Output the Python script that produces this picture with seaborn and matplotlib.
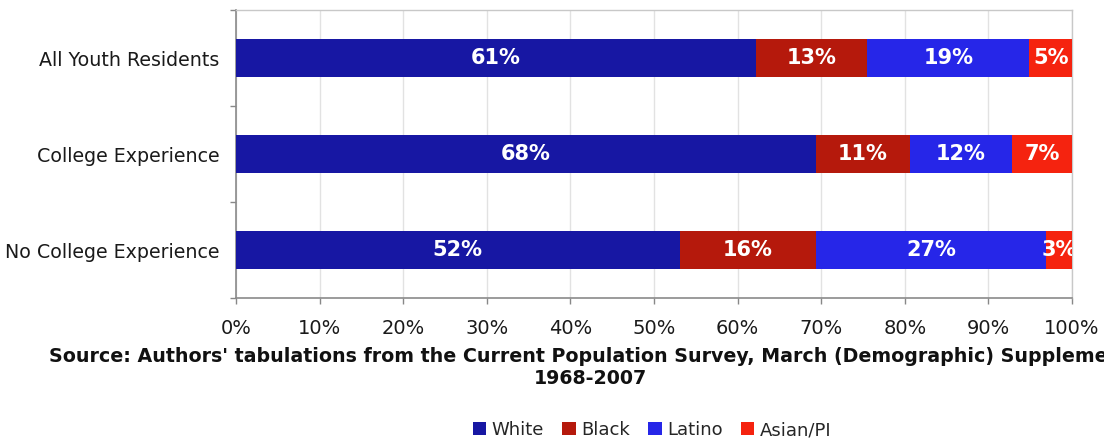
import numpy as np
import pandas as pd
import matplotlib
matplotlib.use("Agg")
import matplotlib.pyplot as plt
import seaborn as sns
from matplotlib.patches import Patch

# Share of youth by race/ethnicity (percent, as tabulated)
groups = ["All Youth Residents", "College Experience", "No College Experience"]
races = ["White", "Black", "Latino", "Asian/PI"]
white = [61, 68, 52]
black = [13, 11, 16]
latino = [19, 12, 27]
asian = [5, 7, 3]
x_ticks = [0, 10, 20, 30, 40, 50, 60, 70, 80, 90, 100]

colors = ["#1717a3", "#b5190c", "#2626e8", "#f5230f"]

sns.set_theme(style="white")
plt.rcParams["font.family"] = ["DejaVu Sans"]

values = np.array([white, black, latino, asian], dtype=float)  # races x groups
shares = values / values.sum(axis=0) * 100.0                    # 100% stacked
cum = np.cumsum(shares, axis=0)

fig = plt.figure(figsize=(11.04, 4.40), dpi=100)
ax = fig.add_axes([236 / 1104, 1 - 298 / 440, (1072 - 236) / 1104, (298 - 10) / 440])

# draw cumulative bars from the outermost segment inward so each overlays the next
for k in range(len(races) - 1, -1, -1):
    df = pd.DataFrame({"group": groups, "end": cum[k]})
    sns.barplot(data=df, x="end", y="group", orient="h", color=colors[k],
                saturation=1, width=0.4, ax=ax, zorder=3, linewidth=0)

# value labels in the middle of each segment
for k in range(len(races)):
    start = cum[k] - shares[k]
    for i in range(len(groups)):
        ax.text(start[i] + shares[k][i] / 2, i, f"{int(values[k][i])}%",
                ha="center", va="center", color="white", fontsize=15,
                fontweight="bold", zorder=5, clip_on=True)

ax.set_xlim(0, 100)
ax.set_ylim(2.5, -0.5)
ax.set_xticks(x_ticks)
ax.set_xticklabels([f"{t}%" for t in x_ticks])
ax.set_yticks(range(len(groups)))
ax.set_yticks([-0.5, 0.5, 1.5, 2.5], minor=True)
ax.set_xlabel("")
ax.set_ylabel("")

ax.xaxis.grid(True, color="#e2e2e2", linewidth=1, zorder=0)
ax.set_axisbelow(True)
ax.tick_params(axis="x", which="major", bottom=True, length=4, width=1,
               color="#888888", pad=11, labelsize=14, labelcolor="#1a1a1a")
ax.tick_params(axis="y", which="major", left=False, length=0, pad=12,
               labelsize=13.7, labelcolor="#1a1a1a")
ax.tick_params(axis="y", which="minor", left=True, length=4, width=1,
               color="#888888")

for side in ["left", "bottom"]:
    ax.spines[side].set_color("#8a8a8a")
    ax.spines[side].set_linewidth(1.2)
for side in ["top", "right"]:
    ax.spines[side].set_color("#c8c8c8")
    ax.spines[side].set_linewidth(1.0)

fig.text(590 / 1104, 1 - 347 / 440,
         "Source: Authors' tabulations from the Current Population Survey, March (Demographic) Supplement\n1968-2007",
         ha="center", va="top", fontsize=13.7, fontweight="bold", color="#111111",
         multialignment="center", linespacing=1.2)

handles = [Patch(facecolor=c, edgecolor="none", label=r) for c, r in zip(colors, races)]
fig.legend(handles=handles, loc="center", bbox_to_anchor=(652 / 1104, 1 - 430 / 440),
           ncol=4, frameon=False, fontsize=13, handlelength=0.75, handleheight=0.75,
           handletextpad=0.3, columnspacing=1.0, borderaxespad=0)

fig.savefig("out.png", dpi=100)
